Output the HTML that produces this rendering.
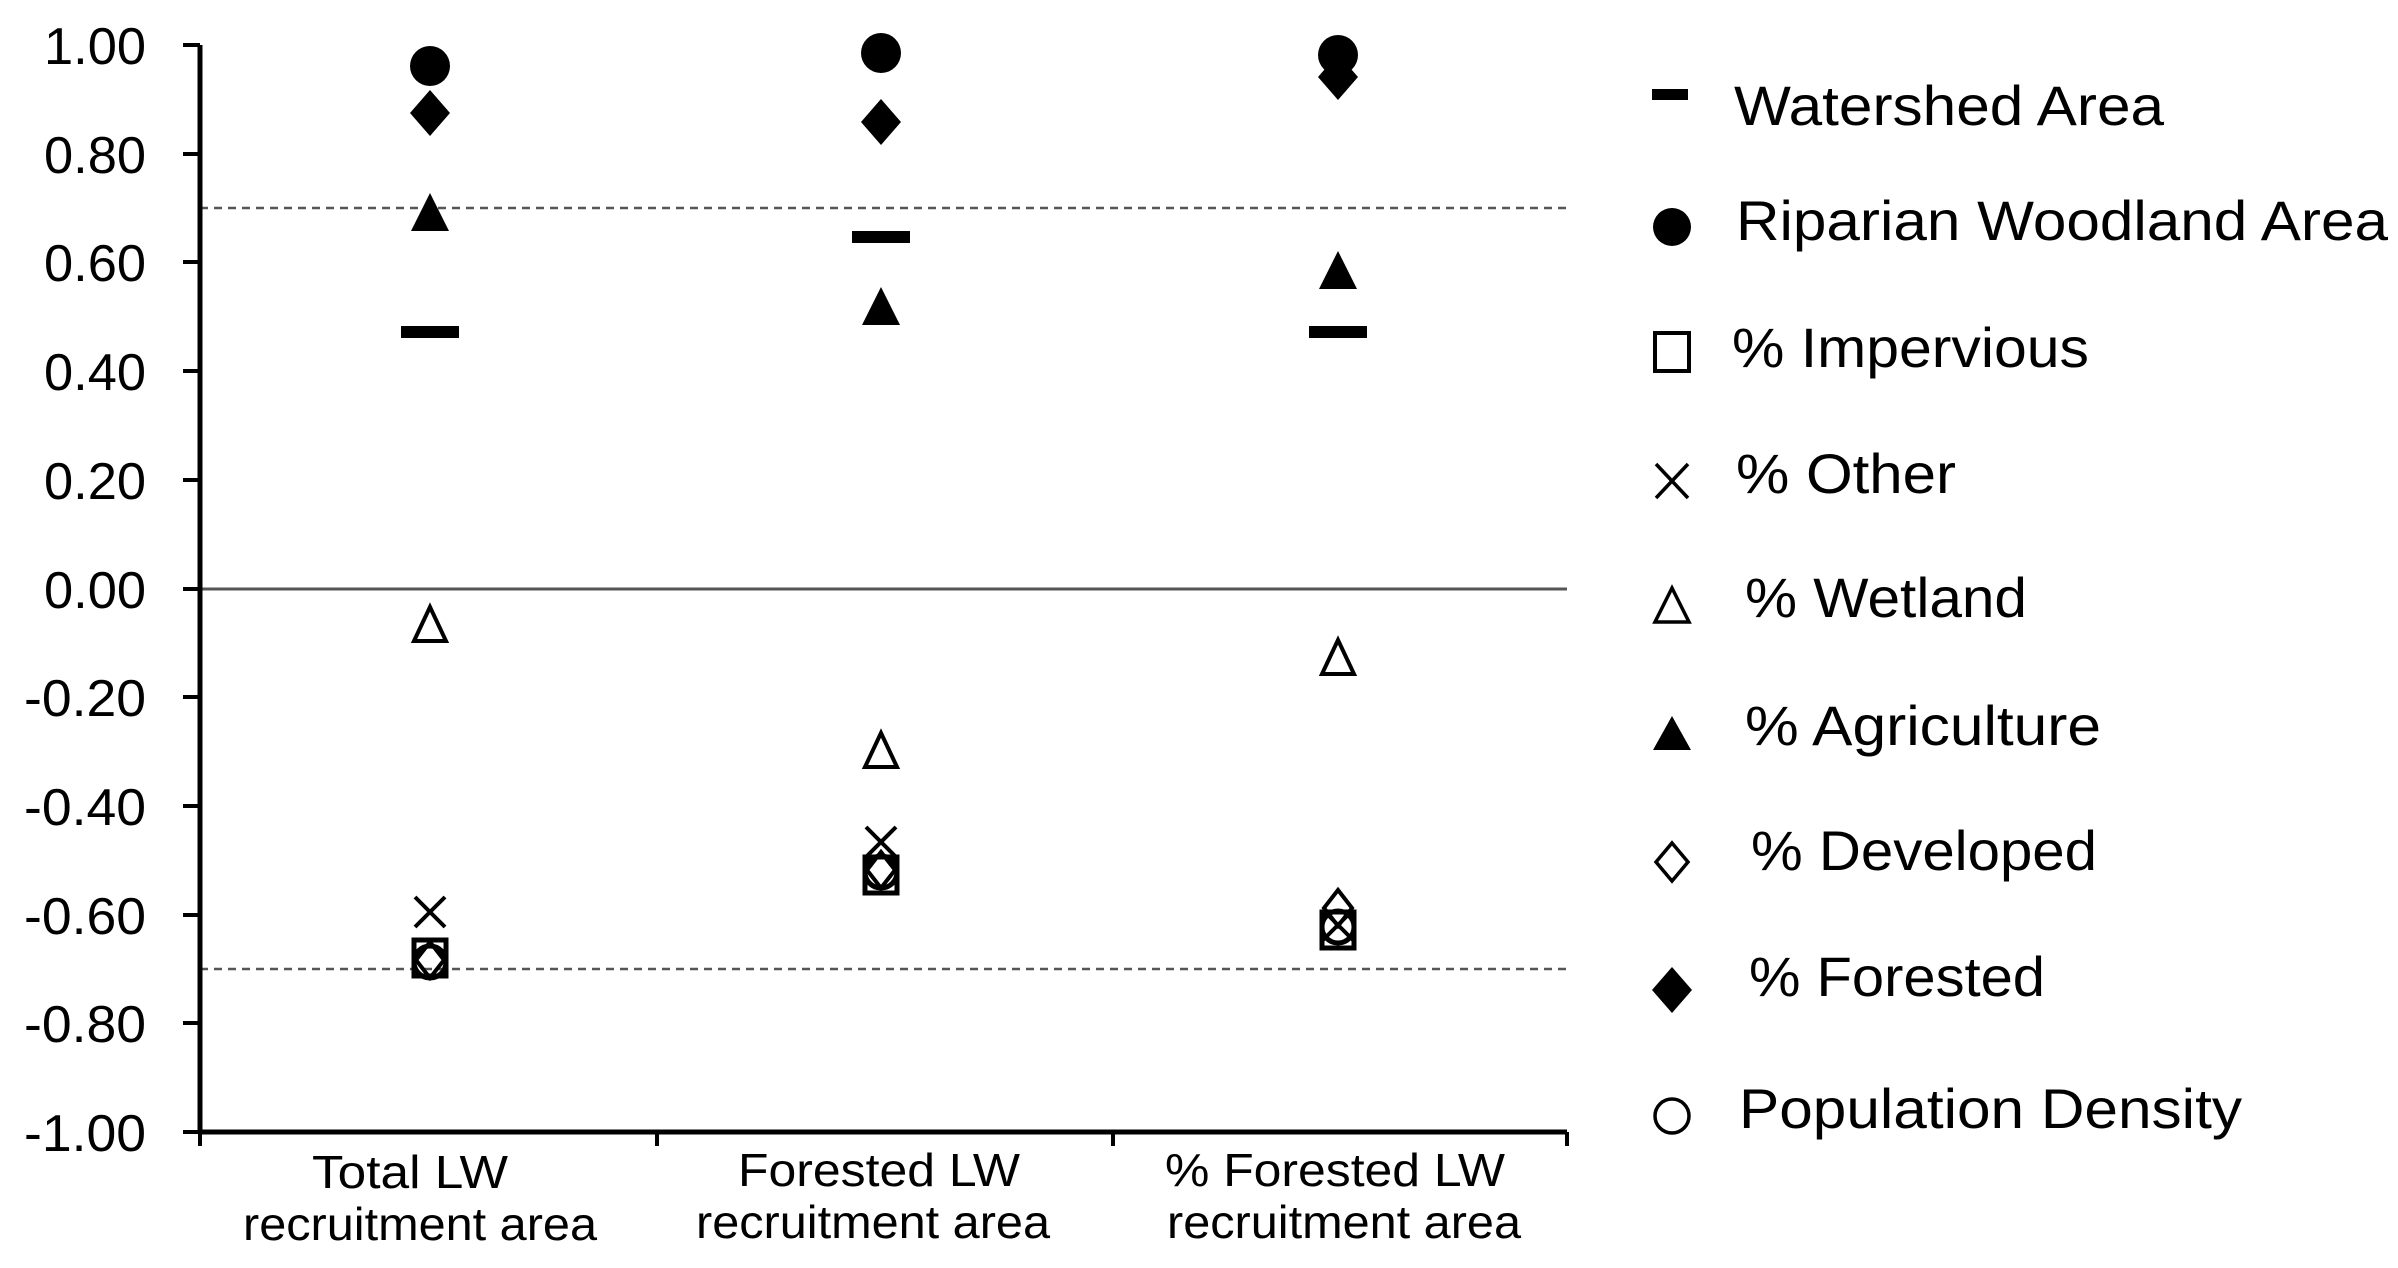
<!DOCTYPE html>
<html><head><meta charset="utf-8"><style>
html,body{margin:0;padding:0;background:#fff;}
svg{display:block;}
text{font-family:"Liberation Sans",sans-serif;fill:#000;}
</style></head><body>
<svg width="2398" height="1268" viewBox="0 0 2398 1268" xmlns="http://www.w3.org/2000/svg">
<defs>
<g id="dash"><rect x="-29" y="-6" width="58" height="12" fill="#000"/></g>
<g id="fc"><circle r="20" fill="#000"/></g>
<g id="oc"><circle r="16" fill="none" stroke="#000" stroke-width="5"/></g>
<g id="os"><rect x="-16" y="-18" width="32" height="36" fill="none" stroke="#000" stroke-width="5"/></g>
<g id="ox"><path d="M-15,-15 L15,15 M-15,15 L15,-15" stroke="#000" stroke-width="4"/></g>
<g id="ft"><path d="M0,-20 L19,18 L-19,18 Z" fill="#000"/></g>
<g id="ot"><path d="M0,-18 L16,16 L-16,16 Z" fill="none" stroke="#000" stroke-width="4"/></g>
<g id="fd"><path d="M0,-23 L20,0 L0,23 L-20,0 Z" fill="#000"/></g>
<g id="od"><path d="M0,-18 L14,0 L0,18 L-14,0 Z" fill="none" stroke="#000" stroke-width="4"/></g>
</defs>

<line x1="200" y1="208" x2="1567" y2="208" stroke="#555" stroke-width="2.5" stroke-dasharray="8,6"/>
<line x1="200" y1="969" x2="1567" y2="969" stroke="#555" stroke-width="2.5" stroke-dasharray="8,6"/>
<line x1="200" y1="589" x2="1567" y2="589" stroke="#555" stroke-width="3"/>

<line x1="200" y1="45" x2="200" y2="1134" stroke="#000" stroke-width="5"/>
<line x1="198" y1="1132" x2="1567" y2="1132" stroke="#000" stroke-width="5"/>
<g stroke="#000" stroke-width="4">
<line x1="183" y1="45" x2="200" y2="45"/>
<line x1="183" y1="154" x2="200" y2="154"/>
<line x1="183" y1="262" x2="200" y2="262"/>
<line x1="183" y1="371" x2="200" y2="371"/>
<line x1="183" y1="480" x2="200" y2="480"/>
<line x1="183" y1="589" x2="200" y2="589"/>
<line x1="183" y1="697" x2="200" y2="697"/>
<line x1="183" y1="806" x2="200" y2="806"/>
<line x1="183" y1="915" x2="200" y2="915"/>
<line x1="183" y1="1023" x2="200" y2="1023"/>
<line x1="183" y1="1132" x2="200" y2="1132"/>
<line x1="200" y1="1132" x2="200" y2="1146"/>
<line x1="657" y1="1132" x2="657" y2="1146"/>
<line x1="1113" y1="1132" x2="1113" y2="1146"/>
<line x1="1567" y1="1132" x2="1567" y2="1146"/>
</g>

<g font-size="52" text-anchor="end">
<text x="146" y="64" textLength="102" lengthAdjust="spacingAndGlyphs">1.00</text>
<text x="146" y="173" textLength="102" lengthAdjust="spacingAndGlyphs">0.80</text>
<text x="146" y="281" textLength="102" lengthAdjust="spacingAndGlyphs">0.60</text>
<text x="146" y="390" textLength="102" lengthAdjust="spacingAndGlyphs">0.40</text>
<text x="146" y="499" textLength="102" lengthAdjust="spacingAndGlyphs">0.20</text>
<text x="146" y="608" textLength="102" lengthAdjust="spacingAndGlyphs">0.00</text>
<text x="146" y="716" textLength="122" lengthAdjust="spacingAndGlyphs">-0.20</text>
<text x="146" y="825" textLength="122" lengthAdjust="spacingAndGlyphs">-0.40</text>
<text x="146" y="934" textLength="122" lengthAdjust="spacingAndGlyphs">-0.60</text>
<text x="146" y="1042" textLength="122" lengthAdjust="spacingAndGlyphs">-0.80</text>
<text x="146" y="1151" textLength="122" lengthAdjust="spacingAndGlyphs">-1.00</text>
</g>

<g font-size="46" text-anchor="middle">
<text x="410" y="1188" textLength="196" lengthAdjust="spacingAndGlyphs">Total LW</text>
<text x="420" y="1240" textLength="354" lengthAdjust="spacingAndGlyphs">recruitment area</text>
<text x="879" y="1186" textLength="282" lengthAdjust="spacingAndGlyphs">Forested LW</text>
<text x="873" y="1238" textLength="354" lengthAdjust="spacingAndGlyphs">recruitment area</text>
<text x="1335" y="1186" textLength="340" lengthAdjust="spacingAndGlyphs">% Forested LW</text>
<text x="1344" y="1238" textLength="354" lengthAdjust="spacingAndGlyphs">recruitment area</text>
</g>

<use href="#fc" x="430" y="66"/>
<use href="#fd" x="430" y="113"/>
<use href="#ft" x="430" y="213"/>
<use href="#dash" x="430" y="332"/>
<use href="#ot" x="430" y="625"/>
<use href="#ox" x="430" y="912"/>
<use href="#os" x="430" y="958"/>
<use href="#od" x="430" y="960"/>
<use href="#oc" x="430" y="962"/>

<use href="#fc" x="881" y="53"/>
<use href="#fd" x="881" y="122"/>
<use href="#dash" x="881" y="237"/>
<use href="#ft" x="881" y="307"/>
<use href="#ot" x="881" y="751"/>
<use href="#ox" x="881" y="842"/>
<use href="#os" x="881" y="875"/>
<use href="#oc" x="881" y="872"/>
<use href="#od" x="881" y="870"/>

<use href="#fc" x="1338" y="55"/>
<use href="#fd" x="1338" y="77"/>
<use href="#ft" x="1338" y="271"/>
<use href="#dash" x="1338" y="332"/>
<use href="#ot" x="1338" y="658"/>
<use href="#od" x="1338" y="908"/>
<use href="#os" x="1338" y="930"/>
<use href="#oc" x="1338" y="927"/>
<use href="#ox" x="1338" y="925"/>

<!-- legend -->
<rect x="1652" y="89" width="36" height="11" fill="#000"/>
<circle cx="1672" cy="227" r="19" fill="#000"/>
<rect x="1655" y="333" width="34" height="38" fill="none" stroke="#000" stroke-width="4"/>
<path d="M1656,464 L1688,498 M1656,498 L1688,464" stroke="#000" stroke-width="3.5"/>
<path d="M1672,588 L1689,622 L1655,622 Z" fill="none" stroke="#000" stroke-width="3.5"/>
<path d="M1672,716 L1691,750 L1653,750 Z" fill="#000"/>
<path d="M1672,843 L1688,862 L1672,881 L1656,862 Z" fill="none" stroke="#000" stroke-width="3.5"/>
<path d="M1672,967 L1692,990 L1672,1013 L1652,990 Z" fill="#000"/>
<circle cx="1672" cy="1116" r="17" fill="none" stroke="#000" stroke-width="3.5"/>
<g font-size="56">
<text x="1734" y="125" textLength="430" lengthAdjust="spacingAndGlyphs">Watershed Area</text>
<text x="1736" y="240" textLength="652" lengthAdjust="spacingAndGlyphs">Riparian  Woodland Area</text>
<text x="1732" y="367" textLength="357" lengthAdjust="spacingAndGlyphs">% Impervious</text>
<text x="1736" y="493" textLength="220" lengthAdjust="spacingAndGlyphs">% Other</text>
<text x="1745" y="617" textLength="282" lengthAdjust="spacingAndGlyphs">% Wetland</text>
<text x="1745" y="745" textLength="356" lengthAdjust="spacingAndGlyphs">% Agriculture</text>
<text x="1751" y="870" textLength="346" lengthAdjust="spacingAndGlyphs">% Developed</text>
<text x="1749" y="996" textLength="296" lengthAdjust="spacingAndGlyphs">% Forested</text>
<text x="1739" y="1128" textLength="503" lengthAdjust="spacingAndGlyphs">Population Density</text>
</g>
</svg>
</body></html>
